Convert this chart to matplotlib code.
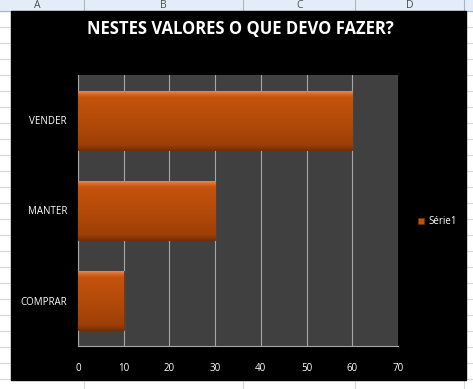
import matplotlib
matplotlib.use("Agg")
import matplotlib.pyplot as plt
import numpy as np
from matplotlib.patches import Rectangle

categories = ["COMPRAR", "MANTER", "VENDER"]
values = [10, 30, 60]
series_name = "Série1"
title = "NESTES VALORES O QUE DEVO FAZER?"
x_ticks = [0, 10, 20, 30, 40, 50, 60, 70]
columns = ["A", "B", "C", "D"]

W, H = 473, 389
fig = plt.figure(figsize=(W / 100, H / 100), dpi=100)
fig.patch.set_facecolor("white")
plt.rcParams["font.family"] = ["Open Sans", "DejaVu Sans"]

# spreadsheet background: header row and grid
bg = fig.add_axes([0, 0, 1, 1])
bg.set_xlim(0, W)
bg.set_ylim(H, 0)
bg.axis("off")
bg.add_patch(Rectangle((0, 0), W, 11, color="#e4ecf7", zorder=1))
bg.axhline(11, color="#9eb6ce", lw=0.8, zorder=2)
for cx in [84, 243, 355, 464]:
    bg.axvline(cx, color="#d0d7e5", lw=0.8, zorder=0)
    bg.plot([cx, cx], [0, 11], color="#9eb6ce", lw=0.8, zorder=2)
for ry in np.arange(27, H, 16):
    bg.axhline(ry, color="#d0d7e5", lw=0.8, zorder=0)
for lbl, cx in zip(columns, [37, 163, 300, 410]):
    bg.text(cx, 5.5, lbl, ha="center", va="center", fontsize=7.5, color="#4d4d4d", zorder=3)

# black chart area
bg.add_patch(Rectangle((11, 11), 455, 369, color="black", zorder=4))
bg.text(240, 29, title, ha="center", va="center", fontsize=12, fontweight="bold",
        color="white", zorder=5)

# plot area
ax = fig.add_axes([78 / W, 1 - 346 / H, 320 / W, 271 / H])
ax.set_facecolor("#404040")
ax.set_xticks(x_ticks)
ax.set_yticks(range(len(categories)))
ax.set_yticklabels(categories)
ax.tick_params(colors="white", labelsize=7, length=0)
ax.tick_params(axis="y", pad=8)
ax.tick_params(axis="x", pad=12)
ax.grid(axis="x", color="#a6a6a6", lw=0.8)
ax.set_axisbelow(True)
for s in ["top", "right"]:
    ax.spines[s].set_visible(False)
for s in ["left", "bottom"]:
    ax.spines[s].set_color("#a6a6a6")
    ax.spines[s].set_linewidth(0.8)

bar_h = 0.65
grad = np.linspace(0, 1, 64).reshape(-1, 1)
cmap = matplotlib.colors.LinearSegmentedColormap.from_list(
    "bar", [(0, "#7e3004"), (0.08, "#9c3f07"), (0.5, "#b44a0a"),
            (0.9, "#c4530c"), (0.96, "#d86a28"), (1, "#e88448")])
for i, v in enumerate(values):
    bars = ax.barh(i, v, height=bar_h, color="#b84c0a", edgecolor="#6e2a04", lw=0.6, zorder=3)
    ax.imshow(grad, extent=(0, v, i - bar_h / 2, i + bar_h / 2), origin="lower",
              cmap=cmap, aspect="auto", zorder=3.5, clip_path=bars[0], clip_on=True)
ax.set_xlim(0, 70)
ax.set_ylim(-0.5, len(categories) - 0.5)

# legend
bg.add_patch(Rectangle((418, 218), 6, 6, facecolor="#c0500a", edgecolor="#7a2e04", lw=0.5, zorder=5))
bg.text(428, 221, series_name, ha="left", va="center", fontsize=7, color="white", zorder=5)

fig.savefig("out.png", dpi=100, facecolor=fig.get_facecolor())
